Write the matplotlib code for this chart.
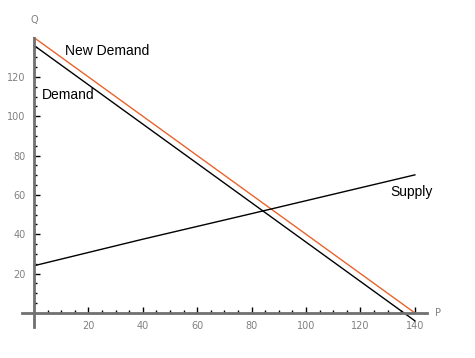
import matplotlib
matplotlib.use("Agg")
import matplotlib.pyplot as plt

# price / quantity points
demand_p = [0, 140]
demand_q = [136, -4]

new_demand_p = [0, 140]
new_demand_q = [140, 0]

supply_p = [0, 40, 80, 140]
supply_q = [24, 37.5, 50.5, 70.2]

x_ticks = [20, 40, 60, 80, 100, 120, 140]
y_ticks = [20, 40, 60, 80, 100, 120]

fig = plt.figure(figsize=(4.75, 3.58), dpi=100)
ax = fig.add_axes([0, 0, 1, 1])
ax.set_xlim(-12.5, 162.1)
ax.set_ylim(-22.9, 159.1)

ax.plot(new_demand_p, new_demand_q, color="#e8642c", lw=1.0)
ax.plot(demand_p, demand_q, color="black", lw=1.0)
ax.plot(supply_p, supply_q, color="black", lw=1.0)

# mathematica-like axes crossing at the origin
for side in ["top", "right"]:
    ax.spines[side].set_visible(False)
ax.spines["left"].set_position(("data", 0))
ax.spines["bottom"].set_position(("data", 0))
ax.spines["left"].set_bounds(-7, 140)
ax.spines["bottom"].set_bounds(-4.5, 144.5)
for side in ["left", "bottom"]:
    ax.spines[side].set_color("#707070")
    ax.spines[side].set_linewidth(2)

ax.set_xticks(x_ticks)
ax.set_yticks(y_ticks)
ax.set_xticks([v for v in range(5, 141, 5) if v % 20], minor=True)
ax.set_yticks([v for v in range(5, 136, 5) if v % 20], minor=True)
ax.tick_params(which="major", direction="in", length=4, width=1, color="black",
               labelsize=7, labelcolor="#808080", pad=6)
ax.tick_params(which="minor", direction="in", length=2.5, width=1, color="black")

ax.text(11.5, 133, "New Demand", fontsize=10, family="Liberation Sans", va="center")
ax.text(3, 111, "Demand", fontsize=10, family="Liberation Sans", va="center")
ax.text(131, 61.5, "Supply", fontsize=10, family="Liberation Sans", va="center")
ax.text(0, 149, "Q", fontsize=7, color="#808080", ha="center", va="center")
ax.text(148.5, 0, "P", fontsize=7, color="#808080", ha="center", va="center")

fig.savefig("out.png", dpi=100)
